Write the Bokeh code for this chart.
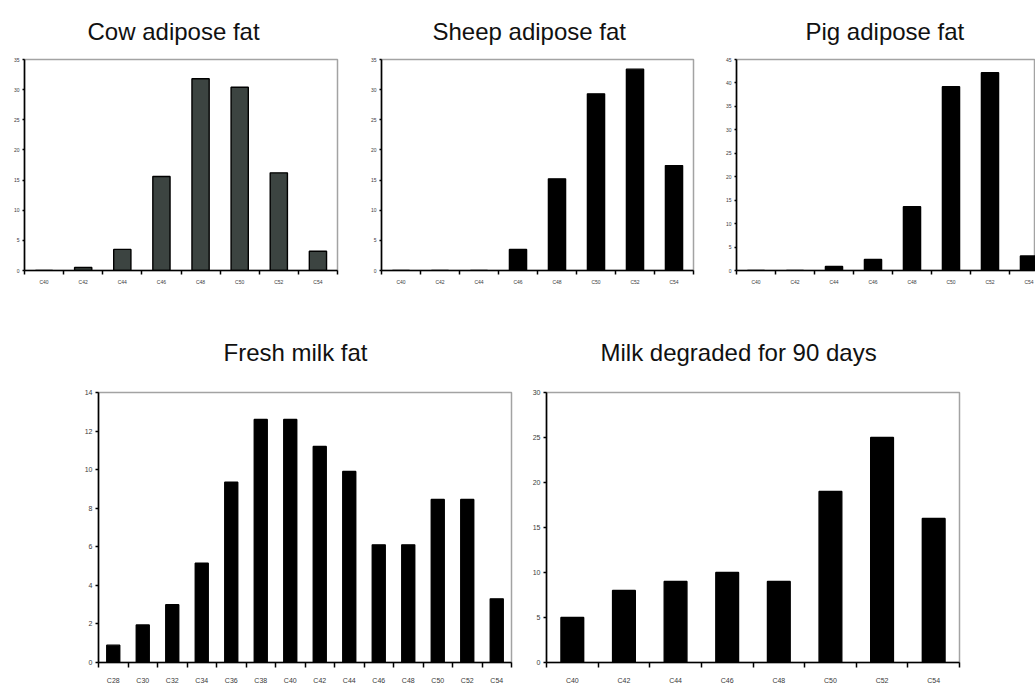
from bokeh.plotting import figure
from bokeh.layouts import column, row
from bokeh.models import ColumnDataSource, FixedTicker, Range1d, Title
from bokeh.embed import file_html
from bokeh.resources import INLINE

# Fatty-acid chain distribution (%) by sample
adipose_cats = ["C40", "C42", "C44", "C46", "C48", "C50", "C52", "C54"]
cow_values = [0.0, 0.5, 3.5, 15.6, 31.8, 30.4, 16.2, 3.2]
sheep_values = [0.0, 0.0, 0.0, 3.5, 15.2, 29.3, 33.4, 17.4]
pig_values = [0.0, 0.0, 0.85, 2.35, 13.6, 39.2, 42.2, 3.1]

fresh_cats = ["C28", "C30", "C32", "C34", "C36", "C38", "C40",
              "C42", "C44", "C46", "C48", "C50", "C52", "C54"]
fresh_values = [0.9, 1.95, 3.0, 5.15, 9.35, 12.6, 12.6,
                11.2, 9.9, 6.1, 6.1, 8.45, 8.45, 3.3]

degraded_cats = ["C40", "C42", "C44", "C46", "C48", "C50", "C52", "C54"]
degraded_values = [5, 8, 9, 10, 9, 19, 25, 16]

cow_yticks = [0, 5, 10, 15, 20, 25, 30, 35]
sheep_yticks = [0, 5, 10, 15, 20, 25, 30, 35]
pig_yticks = [0, 5, 10, 15, 20, 25, 30, 35, 40, 45]
fresh_yticks = [0, 2, 4, 6, 8, 10, 12, 14]
degraded_yticks = [0, 5, 10, 15, 20, 25, 30]

FONT = "Liberation Sans"


def bar_panel(title, cats, values, yticks, width, height, borders, title_offset,
              title_standoff, tick_px, fill="black", x_end=None,
              small=True):
    left, right, top, bottom = borders
    n = len(cats)
    xs = list(range(n))
    src = ColumnDataSource(dict(x=xs, top=values, cat=cats))
    p = figure(width=width, height=height, output_backend="svg",
               toolbar_location=None,
               x_range=Range1d(-0.5, (n - 0.5) if x_end is None else x_end),
               y_range=Range1d(yticks[0], yticks[-1]))
    p.min_border_left = left
    p.min_border_right = right
    p.min_border_top = top
    p.min_border_bottom = bottom
    p.background_fill_color = "white"
    p.border_fill_color = "white"
    p.outline_line_color = "#a3a3a3"
    p.outline_line_width = 1.5
    p.xgrid.visible = False
    p.ygrid.visible = False

    p.vbar(x="x", top="top", width=0.44, source=src, fill_color=fill,
           line_color="black", line_width=1.4)

    p.title = Title(text=title, align="left", offset=title_offset,
                    standoff=title_standoff, text_font=FONT,
                    text_font_size="24px", text_font_style="normal",
                    text_color="#111111")

    xa = p.xaxis[0]
    xa.ticker = FixedTicker(ticks=xs, minor_ticks=[i - 0.5 for i in range(n + 1)])
    xa.major_label_overrides = {i: c for i, c in zip(xs, cats)}
    xa.major_tick_out = 0
    xa.major_tick_in = 0
    xa.minor_tick_out = 4 if small else 5
    xa.minor_tick_in = 0
    xa.minor_tick_line_color = "black"
    xa.minor_tick_line_width = 1.5
    xa.axis_line_color = "black"
    xa.axis_line_width = 1.6
    xa.major_label_text_font = FONT
    xa.major_label_text_font_size = tick_px
    xa.major_label_text_color = "#3a3a3a"
    xa.major_label_standoff = 4 if small else 9

    ya = p.yaxis[0]
    ya.ticker = FixedTicker(ticks=yticks)
    ya.major_tick_out = 2 if small else 3
    ya.major_tick_in = 0
    ya.minor_tick_out = 0
    ya.minor_tick_in = 0
    ya.major_tick_line_color = "black"
    ya.major_tick_line_width = 1.5
    ya.axis_line_color = "black"
    ya.axis_line_width = 1.6
    ya.major_label_text_font = FONT
    ya.major_label_text_font_size = tick_px
    ya.major_label_text_color = "#3a3a3a"
    ya.major_label_standoff = 3
    return p


p_cow = bar_panel("Cow adipose fat", adipose_cats, cow_values, cow_yticks,
                  357, 310, (24, 20, 59, 40), 63, 29, "5px", fill="#3c4441")
p_sheep = bar_panel("Sheep adipose fat", adipose_cats, sheep_values, sheep_yticks,
                    355, 310, (24, 19, 59, 40), 51, 29, "5px")
p_pig = bar_panel("Pig adipose fat", adipose_cats, pig_values, pig_yticks,
                  323, 310, (24, 0, 59, 40), 69, 29, "5px", x_end=7.167)

p_fresh = bar_panel("Fresh milk fat", fresh_cats, fresh_values, fresh_yticks,
                    521, 376, (98, 10, 82, 17), 125, 53, "7px", small=False)
p_degraded = bar_panel("Milk degraded for 90 days", degraded_cats, degraded_values,
                       degraded_yticks, 514, 376, (25, 76, 82, 17), 54, 53, "7px",
                       small=False)

layout = column(row(p_cow, p_sheep, p_pig, spacing=0),
                row(p_fresh, p_degraded, spacing=0), spacing=0)

open("out.html", "w").write(file_html(layout, INLINE))
